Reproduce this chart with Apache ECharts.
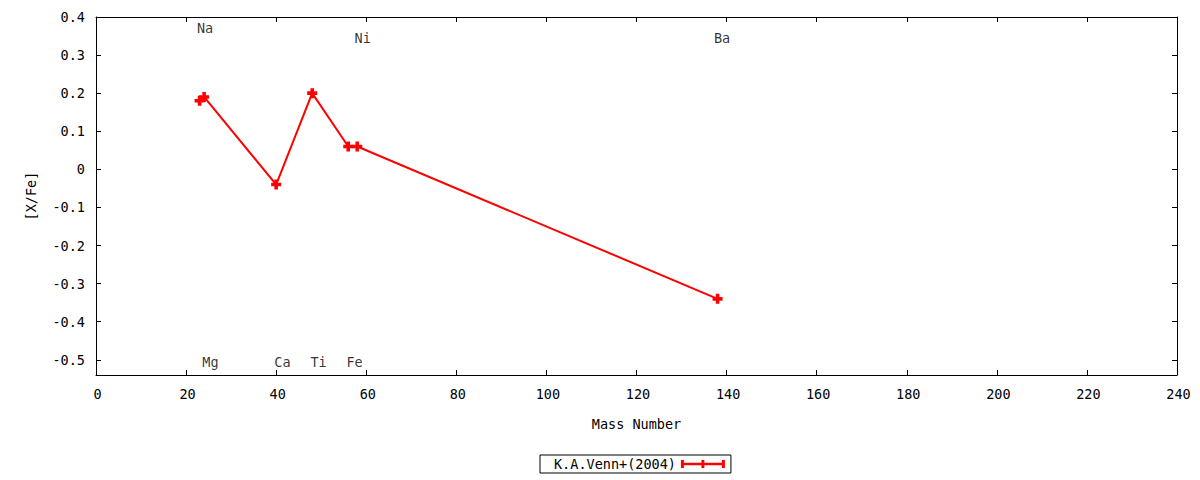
<!DOCTYPE html>
<html>
<head>
<meta charset="utf-8">
<script src="https://cdn.jsdelivr.net/npm/echarts@6/dist/echarts.min.js"></script>
<style>html,body{margin:0;padding:0;background:#fff}#c{width:1200px;height:480px}</style>
</head>
<body>
<div id="c"></div>
<script>
// Data
var elements = ['Na', 'Mg', 'Ca', 'Ti', 'Fe', 'Ni', 'Ba'];
var massNumbers = [23, 24, 40, 48, 56, 58, 138];
var xFeValues = [0.18, 0.19, -0.04, 0.20, 0.06, 0.06, -0.34];
var labelX = [22.4, 23.6, 39.6, 47.6, 55.6, 57.4, 137.2];
var labelY = [0.372, -0.507, -0.507, -0.507, -0.507, 0.346, 0.346];
var yTicks = [-0.5, -0.4, -0.3, -0.2, -0.1, 0, 0.1, 0.2, 0.3, 0.4];
var seriesName = 'K.A.Venn+(2004)';

var FONT = 'DejaVu Sans Mono';
var FS = 13.5;
var plusPath = 'path://M3.2,0H6.8V3.2H10V6.8H6.8V10H3.2V6.8H0V3.2H3.2Z';
var legendIcon = 'path://M0,0H3V8H0Z M3,2.7H41V5.3H3Z M41,0H44V8H41Z M20.5,0H23.5V8H20.5Z';

var chart = echarts.init(document.getElementById('c'), null, {renderer: 'svg'});
var axisLineStyle = {show: true, onZero: false, lineStyle: {color: '#000', width: 1}};
var tickStyle = {show: true, inside: true, length: 5, lineStyle: {color: '#000', width: 1}};

chart.setOption({
  animation: false,
  backgroundColor: '#fff',
  textStyle: {fontFamily: FONT},
  grid: {left: 96, right: 23, top: 17, bottom: 105, containLabel: false},
  legend: {
    left: 540, top: 455,
    data: [{name: seriesName, icon: legendIcon}],
    align: 'right',
    itemWidth: 44, itemHeight: 8,
    borderColor: '#000', borderWidth: 1, borderRadius: 0,
    padding: [2, 6, 2, 14],
    textStyle: {fontFamily: FONT, fontSize: FS, color: '#000'},
    selectedMode: false
  },
  xAxis: [{
    type: 'value', position: 'bottom', min: 0, max: 240, interval: 20,
    name: 'Mass Number', nameLocation: 'middle', nameGap: 42,
    nameTextStyle: {fontFamily: FONT, fontSize: FS, color: '#000'},
    axisLine: axisLineStyle, axisTick: tickStyle,
    axisLabel: {fontFamily: FONT, fontSize: FS, color: '#000', margin: 12, padding: [0, 0, 0, 3]},
    splitLine: {show: false}
  }, {
    type: 'value', position: 'top', min: 0, max: 240, interval: 20,
    axisLine: axisLineStyle, axisTick: tickStyle,
    axisLabel: {show: false}, splitLine: {show: false}
  }],
  yAxis: [{
    type: 'value', position: 'left', min: -0.54, max: 0.4,
    name: '[X/Fe]', nameLocation: 'middle', nameGap: 58, nameRotate: 90,
    nameTextStyle: {fontFamily: FONT, fontSize: FS, color: '#000'},
    axisLine: axisLineStyle,
    axisTick: Object.assign({customValues: yTicks}, tickStyle),
    axisLabel: {fontFamily: FONT, fontSize: FS, color: '#000', margin: 11, customValues: yTicks,
      formatter: function (v) { return String(Math.round(v * 10) / 10); }},
    splitLine: {show: false}
  }, {
    type: 'value', position: 'right', min: -0.54, max: 0.4,
    axisLine: axisLineStyle,
    axisTick: Object.assign({customValues: yTicks}, tickStyle),
    axisLabel: {show: false, customValues: yTicks}, splitLine: {show: false}
  }],
  series: [{
    name: seriesName,
    type: 'line',
    xAxisIndex: 0, yAxisIndex: 0,
    data: massNumbers.map(function (m, i) { return [m, xFeValues[i]]; }),
    symbol: plusPath, symbolSize: 10,
    itemStyle: {color: '#ff0000'},
    lineStyle: {color: '#ff0000', width: 2},
    z: 3
  }, {
    name: 'labels',
    type: 'scatter',
    xAxisIndex: 0, yAxisIndex: 0,
    symbolSize: 0,
    data: elements.map(function (e, i) { return {name: e, value: [labelX[i], labelY[i]]}; }),
    label: {show: true, position: 'right', distance: 0, formatter: '{b}',
      fontFamily: FONT, fontSize: FS, color: '#000'},
    silent: true
  }]
});
</script>
</body>
</html>
